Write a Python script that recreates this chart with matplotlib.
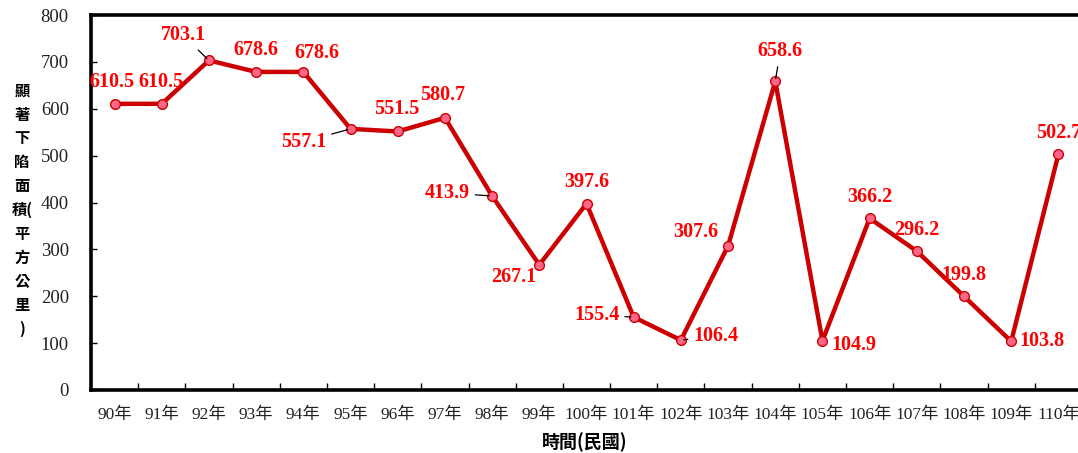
import matplotlib
matplotlib.use("Agg")
import matplotlib.pyplot as plt
import numpy as np

years = ["90年", "91年", "92年", "93年", "94年", "95年", "96年", "97年", "98年", "99年",
         "100年", "101年", "102年", "103年", "104年", "105年", "106年", "107年", "108年",
         "109年", "110年"]
area = [610.5, 610.5, 703.1, 678.6, 678.6, 557.1, 551.5, 580.7, 413.9, 267.1,
        397.6, 155.4, 106.4, 307.6, 658.6, 104.9, 366.2, 296.2, 199.8, 103.8, 502.7]
yticks = [0, 100, 200, 300, 400, 500, 600, 700, 800]

# label offsets in pixels (dx, dy) and whether a leader line is drawn
offsets = [(-3, 22), (-1, 22), (-26, 25), (0, 22), (14, 19), (-47, -13), (-1, 22), (-2, 23),
           (-45, 3), (-26, -12), (0, 22), (-37, 2), (35, 4), (-32, 14), (5, 30), (31, -4),
           (0, 21), (0, 21), (0, 21), (31, 0), (0, 21)]
leaders = {2, 5, 8, 11, 12, 14}

serif = ['Liberation Serif', 'Noto Sans CJK TC']
cjk = ['Noto Sans CJK TC', 'Liberation Serif']
plt.rcParams['font.family'] = serif

fig = plt.figure(figsize=(10.78, 4.53), dpi=100)
ax = fig.add_axes([91/1078, 63/453, (1082-91)/1078, (390-15)/453])

x = np.arange(len(area))
ax.plot(x, area, color='#CC0000', lw=3.2, marker='o', ms=7,
        markerfacecolor='#FF6688', markeredgecolor='#CC0000', markeredgewidth=1.0,
        zorder=3, clip_on=False)

for i, (xi, v) in enumerate(zip(x, area)):
    dx, dy = offsets[i]
    kw = {}
    if i in leaders:
        kw['arrowprops'] = dict(arrowstyle='-', color='black', lw=0.9,
                                shrinkA=2, shrinkB=2)
    ax.annotate(f"{v:.1f}", (xi, v), xytext=(dx, dy), textcoords='offset pixels',
                ha='center', va='center', color='#FF0000', fontsize=14.5,
                fontweight='bold', family=serif, zorder=4, annotation_clip=False, **kw)

ax.set_xlim(-0.5, len(area) - 0.5)
ax.set_ylim(0, 800)
ax.set_yticks(yticks)
ax.set_yticklabels([str(t) for t in yticks], fontsize=13.5, color='#222222')
ax.set_xticks(x)
ax.set_xticklabels(years, fontsize=12.5, color='#222222')
ax.set_xticks(np.arange(0.5, len(area) - 1), minor=True)
ax.tick_params(axis='x', which='major', length=0, pad=12)
ax.tick_params(axis='x', which='minor', direction='in', length=5, width=1, color='black')
ax.tick_params(axis='y', which='major', direction='in', length=4, width=1, pad=16)

for s in ['left', 'top', 'bottom']:
    ax.spines[s].set_linewidth(2.6)
    ax.spines[s].set_color('black')
ax.spines['right'].set_visible(False)

ylabel = "\n".join(["顯", "著", "下", "陷", "面", "積(", "平", "方", "公", "里", ")"])
fig.text(22/1078, 1 - 210/453, ylabel, ha='center', va='center', fontsize=11,
         fontweight='bold', family=cjk, linespacing=1.6)
fig.text(585/1078, 1 - 442/453, "時間(民國)", ha='center', va='center', fontsize=13,
         fontweight='bold', family=cjk)

fig.savefig("out.png", dpi=100)
